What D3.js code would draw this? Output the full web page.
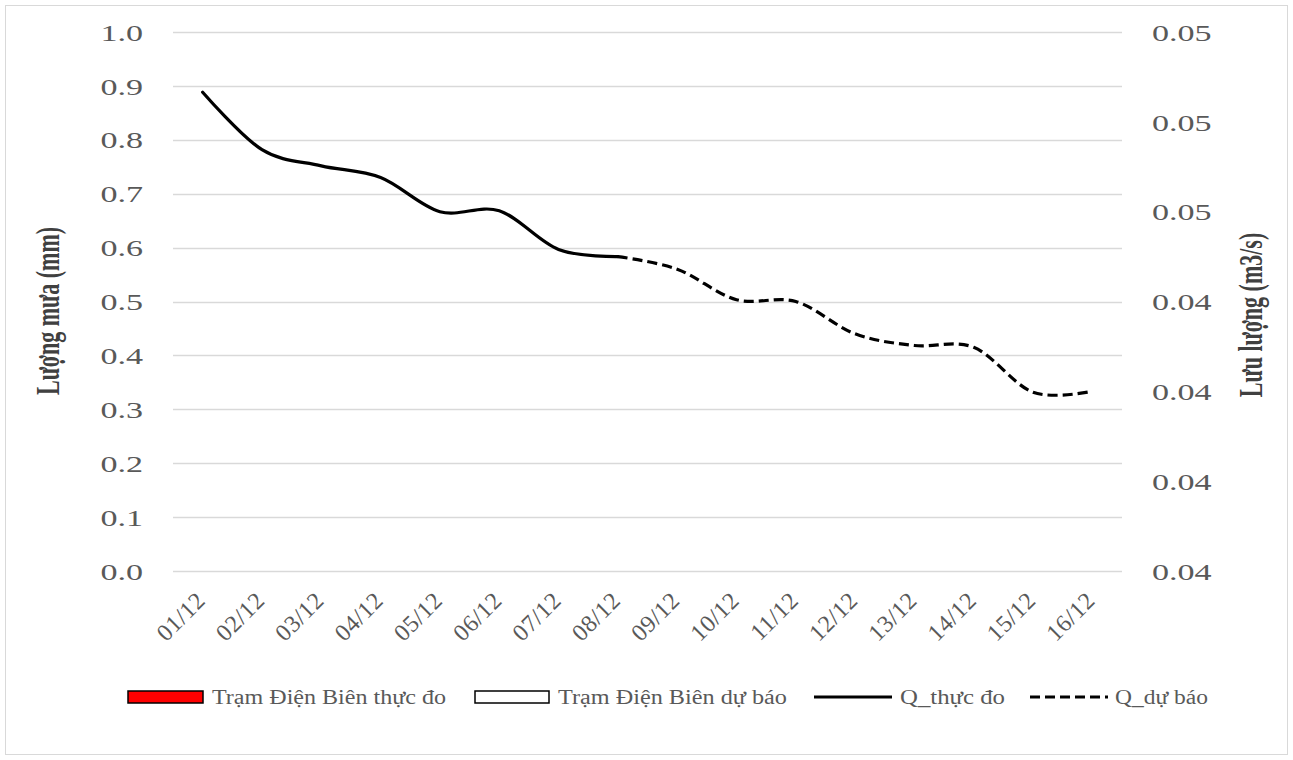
<!DOCTYPE html>
<html>
<head>
<meta charset="utf-8">
<script src="https://cdn.jsdelivr.net/npm/d3@7"></script>
<style>
  body { margin: 0; background: #fff; }
  text { font-family: "Liberation Serif", "Times New Roman", serif; }
</style>
</head>
<body>
<div id="chart"></div>
<script>
  var days = ["01/12","02/12","03/12","04/12","05/12","06/12","07/12","08/12",
              "09/12","10/12","11/12","12/12","13/12","14/12","15/12","16/12"];
  // rainfall (mm), all zero in the picture
  var rainObserved = [0,0,0,0,0,0,0,0,null,null,null,null,null,null,null,null];
  var rainForecast = [null,null,null,null,null,null,null,0,0,0,0,0,0,0,0,0];
  // discharge Q (m3/s)
  var qObserved = [0.04633,0.04569,0.04551,0.04538,0.04500,0.04501,0.04458,0.04450,
                   null,null,null,null,null,null,null,null];
  var qForecast = [null,null,null,null,null,null,null,0.04450,
                   0.04436,0.04402,0.04400,0.04364,0.04351,0.04349,0.04299,0.04300];
  var leftTicks = [0,0.1,0.2,0.3,0.4,0.5,0.6,0.7,0.8,0.9,1.0];
  var rightTicks = [0.041,0.042,0.043,0.044,0.045,0.046,0.047];
  var rightTickLabels = ["0.04","0.04","0.04","0.04","0.05","0.05","0.05"];
  var legendNames = ["Trạm Điện Biên thực đo","Trạm Điện Biên dự báo","Q_thực đo","Q_dự báo"];

  var W = 1293, H = 760,
      plot = { left: 173, right: 1122, top: 32, bottom: 571 },
      sx = 1.42,            // glyphs in the picture are stretched sideways
      grey = "#595959";

  var svg = d3.select("#chart").append("svg")
      .attr("width", W)
      .attr("height", H);

  svg.append("rect")
      .attr("x", 5.5).attr("y", 5.5)
      .attr("width", 1282).attr("height", 749)
      .attr("fill", "#fff").attr("stroke", "#d9d9d9");

  var x = d3.scaleBand().domain(days).range([plot.left, plot.right]);
  var yRain = d3.scaleLinear().domain([0, 1]).range([plot.bottom, plot.top]);
  var yQ = d3.scaleLinear().domain([0.041, 0.047]).range([plot.bottom, plot.top]);

  // gridlines
  svg.append("g").selectAll("line")
      .data(leftTicks)
      .enter().append("line")
      .attr("x1", plot.left).attr("x2", plot.right)
      .attr("y1", function(d) { return Math.round(yRain(d)) + 0.5; })
      .attr("y2", function(d) { return Math.round(yRain(d)) + 0.5; })
      .attr("stroke", "#d9d9d9").attr("stroke-width", 1.3);

  // left axis
  var gLeft = svg.append("g")
      .attr("transform", "translate(" + plot.left + ",0)")
      .call(d3.axisLeft(yRain).tickValues(leftTicks).tickFormat(d3.format(".1f")).tickSize(0));
  gLeft.select(".domain").remove();
  gLeft.selectAll("text")
      .attr("x", -30 / sx).attr("dy", "0.34em")
      .attr("transform", "scale(" + sx + ",1)")
      .style("font-size", "24px").attr("fill", grey);

  // right axis
  var gRight = svg.append("g")
      .attr("transform", "translate(" + plot.right + ",0)")
      .call(d3.axisRight(yQ).tickValues(rightTicks)
        .tickFormat(function(d, i) { return rightTickLabels[i]; }).tickSize(0));
  gRight.select(".domain").remove();
  gRight.selectAll("text")
      .attr("x", 30 / sx).attr("dy", "0.34em")
      .attr("transform", "scale(" + sx + ",1)")
      .style("font-size", "24px").attr("fill", grey);

  // bottom axis
  var gBottom = svg.append("g")
      .attr("transform", "translate(0," + plot.bottom + ")")
      .call(d3.axisBottom(x).tickSize(0));
  gBottom.select(".domain").remove();
  gBottom.selectAll("text")
      .attr("x", 0).attr("y", 0).attr("dy", 0)
      .style("text-anchor", "end")
      .style("font-size", "24px")
      .style("letter-spacing", "0.5px")
      .attr("fill", grey)
      .attr("transform", "translate(4,31) rotate(-45)");

  // rainfall bars (zero height)
  var bw = x.bandwidth() * 0.35;
  svg.append("g").selectAll("rect")
      .data(days.map(function(d, i) { return { day: d, v: rainObserved[i] }; })
        .filter(function(d) { return d.v != null; }))
      .enter().append("rect")
      .attr("x", function(d) { return x(d.day) + x.bandwidth() / 2 - bw; })
      .attr("y", function(d) { return yRain(d.v); })
      .attr("width", bw)
      .attr("height", function(d) { return yRain(0) - yRain(d.v); })
      .attr("fill", "#ff0000");
  svg.append("g").selectAll("rect")
      .data(days.map(function(d, i) { return { day: d, v: rainForecast[i] }; })
        .filter(function(d) { return d.v != null; }))
      .enter().append("rect")
      .attr("x", function(d) { return x(d.day) + x.bandwidth() / 2; })
      .attr("y", function(d) { return yRain(d.v); })
      .attr("width", bw)
      .attr("height", function(d) { return yRain(0) - yRain(d.v); })
      .attr("fill", "#fff").attr("stroke", "#000");

  // discharge lines
  var line = d3.line()
      .defined(function(d) { return d.v != null; })
      .x(function(d) { return x(d.day) + x.bandwidth() / 2; })
      .y(function(d) { return yQ(d.v); })
      .curve(d3.curveCardinal.tension(0));

  function series(arr) {
    return days.map(function(d, i) { return { day: d, v: arr[i] }; })
      .filter(function(d) { return d.v != null; });
  }

  svg.append("path")
      .datum(series(qObserved))
      .attr("d", line)
      .attr("fill", "none").attr("stroke", "#000").attr("stroke-width", 3.2)
      .attr("stroke-linecap", "round");
  svg.append("path")
      .datum(series(qForecast))
      .attr("d", line)
      .attr("fill", "none").attr("stroke", "#000").attr("stroke-width", 3.2)
      .attr("stroke-dasharray", "10,5");

  // axis titles
  svg.append("text")
      .attr("transform", "translate(59,311) scale(1.5,1) rotate(-90)")
      .attr("text-anchor", "middle")
      .style("font-size", "22px").style("font-weight", "bold")
      .attr("fill", "#404040")
      .text("Lượng mưa (mm)");
  svg.append("text")
      .attr("transform", "translate(1262,315) scale(1.5,1) rotate(-90)")
      .attr("text-anchor", "middle")
      .style("font-size", "22px").style("font-weight", "bold")
      .attr("fill", "#404040")
      .text("Lưu lượng (m3/s)");

  // legend
  var legendX = [128, 475, 814, 1030],
      legendTextX = [212, 558, 900, 1115],
      legendTextW = [234, 229, 105, 93],
      ly = 697;
  var lg = svg.append("g");
  lg.append("rect").attr("x", legendX[0]).attr("y", ly - 6).attr("width", 75).attr("height", 12)
      .attr("fill", "#ff0000").attr("stroke", "#000").attr("stroke-width", 1.5);
  lg.append("rect").attr("x", legendX[1]).attr("y", ly - 6).attr("width", 74).attr("height", 12)
      .attr("fill", "#fff").attr("stroke", "#000").attr("stroke-width", 1.5);
  lg.append("line").attr("x1", legendX[2]).attr("x2", legendX[2] + 78)
      .attr("y1", ly).attr("y2", ly)
      .attr("stroke", "#000").attr("stroke-width", 3.2);
  lg.append("line").attr("x1", legendX[3]).attr("x2", legendX[3] + 78)
      .attr("y1", ly).attr("y2", ly)
      .attr("stroke", "#000").attr("stroke-width", 3.2).attr("stroke-dasharray", "10,5");
  lg.selectAll("text")
      .data(legendNames)
      .enter().append("text")
      .attr("x", function(d, i) { return legendTextX[i]; })
      .attr("y", ly + 7)
      .attr("textLength", function(d, i) { return legendTextW[i]; })
      .attr("lengthAdjust", "spacingAndGlyphs")
      .style("font-size", "20px")
      .attr("fill", grey)
      .text(function(d) { return d; });
</script>
</body>
</html>
